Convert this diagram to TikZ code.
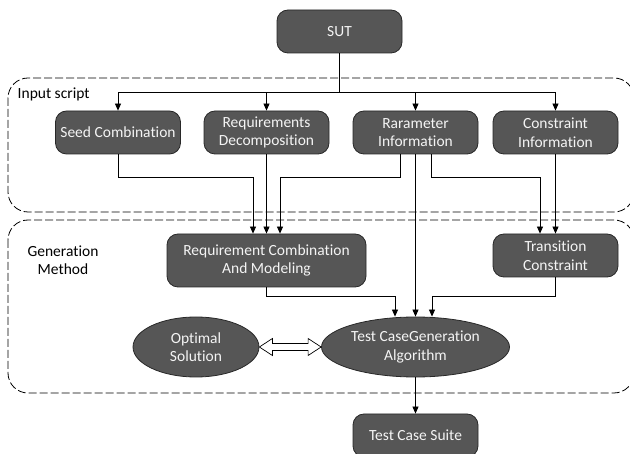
\documentclass[tikz,border=0pt]{standalone}
\usepackage{fontspec}
\setmainfont{Carlito}[Ligatures=NoCommon]
\usetikzlibrary{arrows.meta, positioning, shapes.geometric, calc}

\definecolor{boxgray}{RGB}{86,86,86}
\definecolor{edgegray}{RGB}{40,40,40}
\definecolor{txtwhite}{RGB}{244,244,244}

\begin{document}
\begin{tikzpicture}[x=1pt, y=-1pt, >={Triangle[length=7pt,width=6pt]}, line width=0.8pt,
    box/.style={draw=edgegray, fill=boxgray, rounded corners=11pt, text=txtwhite, align=center,
                minimum width=125pt, minimum height=43pt, inner sep=1pt, font=\fontsize{15.5}{18.5}\selectfont},
    oval/.style={box, ellipse, sharp corners},
    region/.style={draw, dash pattern=on 8pt off 3pt, rounded corners=20pt, line width=0.8pt},
    tag/.style={align=center, font=\fontsize{15.5}{18.5}\selectfont}]
    \useasboundingbox (0,0) rectangle (630,454);

    % dashed groups
    \draw[region] (8,78) rectangle (634,212);
    \draw[region] (8,220) rectangle (634,393);
    \node[tag, anchor=west] (inlabel) at (14,94) {Input script};
    \node[tag] (genlabel) at (63,260) {Generation\\Method};

    \node[box] (sut) at (339.5,31.5) {SUT};
    \node[box] (seed) at (118,132.5) {Seed Combination};
    \node[box] (decomp) at (266.5,132.5) {Requirements\\Decomposition};
    \node[box] (param) at (415.5,132.5) {Rarameter\\Information};
    \node[box] (cons) at (555.5,132.5) {Constraint\\Information};

    \node[box, minimum width=199pt, minimum height=53pt] (reqcomb) at (266.5,260.5) {Requirement Combination\\And Modeling};
    \node[box] (trans) at (555.5,255.5) {Transition\\Constraint};
    \node[oval, minimum width=188pt, minimum height=60pt] (algo) at (415.5,347) {Test CaseGeneration\\Algorithm};
    \node[oval, minimum width=126pt, minimum height=60pt] (opt) at (196,347) {Optimal\\Solution};
    \node[box] (suite) at (415.5,435.5) {Test Case Suite};

    % fan out from SUT
    \coordinate (split) at (sut.south |- 0,92);
    \draw (sut.south) -- (split);
    \foreach \n in {seed, decomp, param, cons}
        \draw[->] (split) -| (\n.north);

    % into the generation method
    \draw[->] (seed.south) -- ++(0,23) -| ([xshift=-13.5pt]reqcomb.north);
    \draw[->] (decomp.south) -- (reqcomb.north);
    \draw[->] ([xshift=-15.5pt]param.south) -- ++(0,23) -| ([xshift=13.5pt]reqcomb.north);
    \draw[->] (param.south) -- (algo.north);
    \draw[->] ([xshift=15.5pt]param.south) -- ++(0,23) -| ([xshift=-15.5pt]trans.north);
    \draw[->] (cons.south) -- (trans.north);
    \draw[->] (reqcomb.south) -- ++(0,9) -| ([xshift=-20.5pt]algo.north);
    \draw[->] (trans.south) -- ++(0,19) -| ([xshift=16.5pt]algo.north);
    \draw[->] (algo.south) -- (suite.north);

    % hollow two-way arrow
    \draw[fill=white, line width=0.7pt] (opt.east) -- ($(opt.east)+(13,-8.5)$) -- ($(opt.east)+(13,-3.5)$)
        -- ($(algo.west)+(-13,-3.5)$) -- ($(algo.west)+(-13,-8.5)$) -- (algo.west)
        -- ($(algo.west)+(-13,8.5)$) -- ($(algo.west)+(-13,3.5)$) -- ($(opt.east)+(13,3.5)$)
        -- ($(opt.east)+(13,8.5)$) -- cycle;
\end{tikzpicture}
\end{document}
